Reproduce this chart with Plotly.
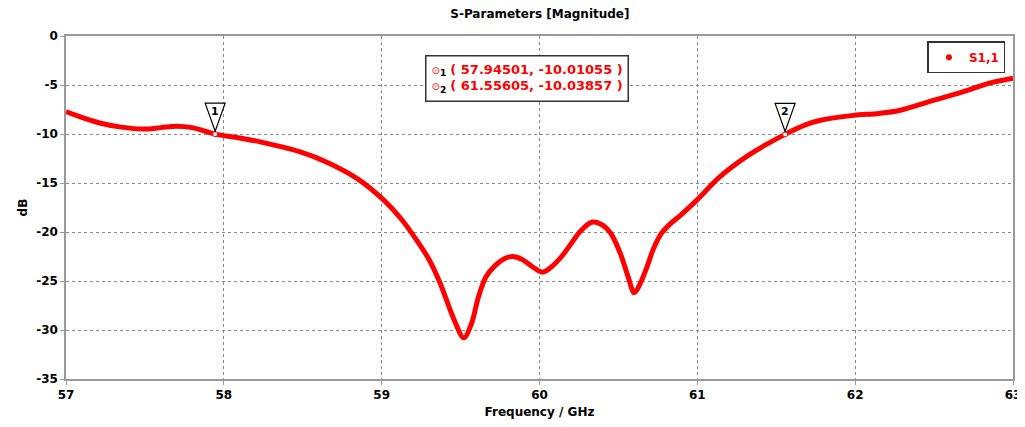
import plotly.graph_objects as go

# S11
freq = [57.0, 57.1, 57.22, 57.35, 57.49, 57.6, 57.7, 57.8, 57.94501, 58.1, 58.23, 58.48, 58.67,
        58.85, 59.01, 59.12, 59.22, 59.3, 59.37, 59.46, 59.52, 59.57, 59.61, 59.66, 59.72,
        59.78, 59.83, 59.89, 59.96, 60.02, 60.08, 60.14, 60.2, 60.26, 60.33, 60.39, 60.45,
        60.51, 60.56, 60.6, 60.64, 60.68, 60.72, 60.77, 60.82, 60.9, 61.0, 61.14, 61.33,
        61.55605, 61.68, 61.78, 61.99, 62.15, 62.28, 62.49, 62.7, 62.85, 63.0]
s11 = [-7.7, -8.3, -8.9, -9.3, -9.5, -9.35, -9.2, -9.35, -10.01, -10.4, -10.8, -11.8, -13.0,
       -14.6, -16.7, -18.6, -20.8, -22.8, -25.2, -29.0, -30.8, -29.3, -26.8, -24.6, -23.4,
       -22.7, -22.5, -22.8, -23.6, -24.1, -23.5, -22.5, -21.2, -19.9, -19.0, -19.2, -20.1,
       -22.1, -24.5, -26.2, -25.2, -23.6, -21.8, -20.2, -19.3, -18.2, -16.7, -14.4, -12.1,
       -10.04, -9.1, -8.6, -8.1, -7.9, -7.6, -6.6, -5.6, -4.8, -4.3]

marker_x = [57.94501, 61.55605]
marker_y = [-10.01055, -10.03857]
marker_names = ["1", "2"]

x_ticks = [57, 58, 59, 60, 61, 62, 63]
y_ticks = [0, -5, -10, -15, -20, -25, -30, -35]

RED = "#ff0000"
FONT = "DejaVu Sans"

fig = go.Figure()

fig.add_trace(go.Scatter(x=freq, y=s11, mode="lines", showlegend=False,
                         line=dict(color=RED, width=5, shape="spline", smoothing=0.9)))

# legend entry: dot only, like the original
fig.add_trace(go.Scatter(x=[None], y=[None], mode="markers", name="<b>S1,1</b>",
                         marker=dict(size=6, color=RED)))

# marker dots on the curve
fig.add_trace(go.Scatter(x=marker_x, y=marker_y, mode="markers", showlegend=False,
                         marker=dict(size=5, color="white", line=dict(color=RED, width=1))))

# triangle flags above the markers, anchored on the marker points
for n, x, y in zip(marker_names, marker_x, marker_y):
    fig.add_shape(type="path", xref="x", yref="y", xsizemode="pixel", ysizemode="pixel",
                  xanchor=x, yanchor=y, path="M -10,31 L 10,31 L 0,3 Z",
                  line=dict(color="black", width=1.2), fillcolor="white", layer="above")
    fig.add_annotation(x=x, y=y, text="<b>%s</b>" % n, showarrow=False, yshift=23,
                       font=dict(family=FONT, size=11, color="black"))

lines = []
for n, x, y in zip(marker_names, marker_x, marker_y):
    lines.append("<span style='color:#ff0000;font-size:10px'>⊙</span><sub><b>%s</b></sub> "
                 "<span style='color:#ff0000'><b>( %.5f, %.5f )</b></span>" % (n, x, y))

fig.add_annotation(x=0.487, y=0.945, xref="paper", yref="paper", xanchor="center", yanchor="top",
                   text="<br>".join(lines), showarrow=False, align="left",
                   font=dict(family=FONT, size=13, color="black"),
                   bgcolor="white", bordercolor="#333333", borderwidth=1.5, borderpad=5)

# the page body adds an 8px offset, so the figure is sized to fit the window
fig.update_layout(
    width=1017, height=419,
    margin=dict(l=58, r=12, t=28, b=48),
    paper_bgcolor="white", plot_bgcolor="white",
    font=dict(family=FONT, size=12, color="black"),
    title=dict(text="<b>S-Parameters [Magnitude]</b>", x=0.523, xanchor="center",
               y=0.986, yanchor="middle", font=dict(size=12)),
    legend=dict(x=0.992, y=0.985, xanchor="right", yanchor="top", bgcolor="white",
                bordercolor="#333333", borderwidth=1.5, font=dict(color=RED, size=12),
                itemwidth=30, tracegroupgap=0),
    showlegend=True,
)

fig.update_xaxes(range=[57, 63], tickvals=x_ticks, ticktext=["<b>%d</b>" % v for v in x_ticks],
                 title=dict(text="<b>Frequency / GHz</b>", standoff=6, font=dict(size=12)),
                 tickfont=dict(size=12), showgrid=True, gridcolor="#888888", griddash="dot",
                 gridwidth=1, showline=True, linecolor="#999999", linewidth=1.5, mirror=True,
                 ticks="outside", ticklen=4, tickcolor="#999999", zeroline=False,
                 automargin=False)
fig.update_yaxes(range=[-35, 0], tickvals=y_ticks, ticktext=["<b>%d</b>" % v for v in y_ticks],
                 title=dict(text="<b>dB</b>", standoff=6, font=dict(size=12)),
                 tickfont=dict(size=12), showgrid=True, gridcolor="#888888", griddash="dot",
                 gridwidth=1, showline=True, linecolor="#999999", linewidth=1.5, mirror=True,
                 ticks="outside", ticklen=4, tickcolor="#999999", zeroline=False,
                 automargin=False)

fig.write_html("out.html")
